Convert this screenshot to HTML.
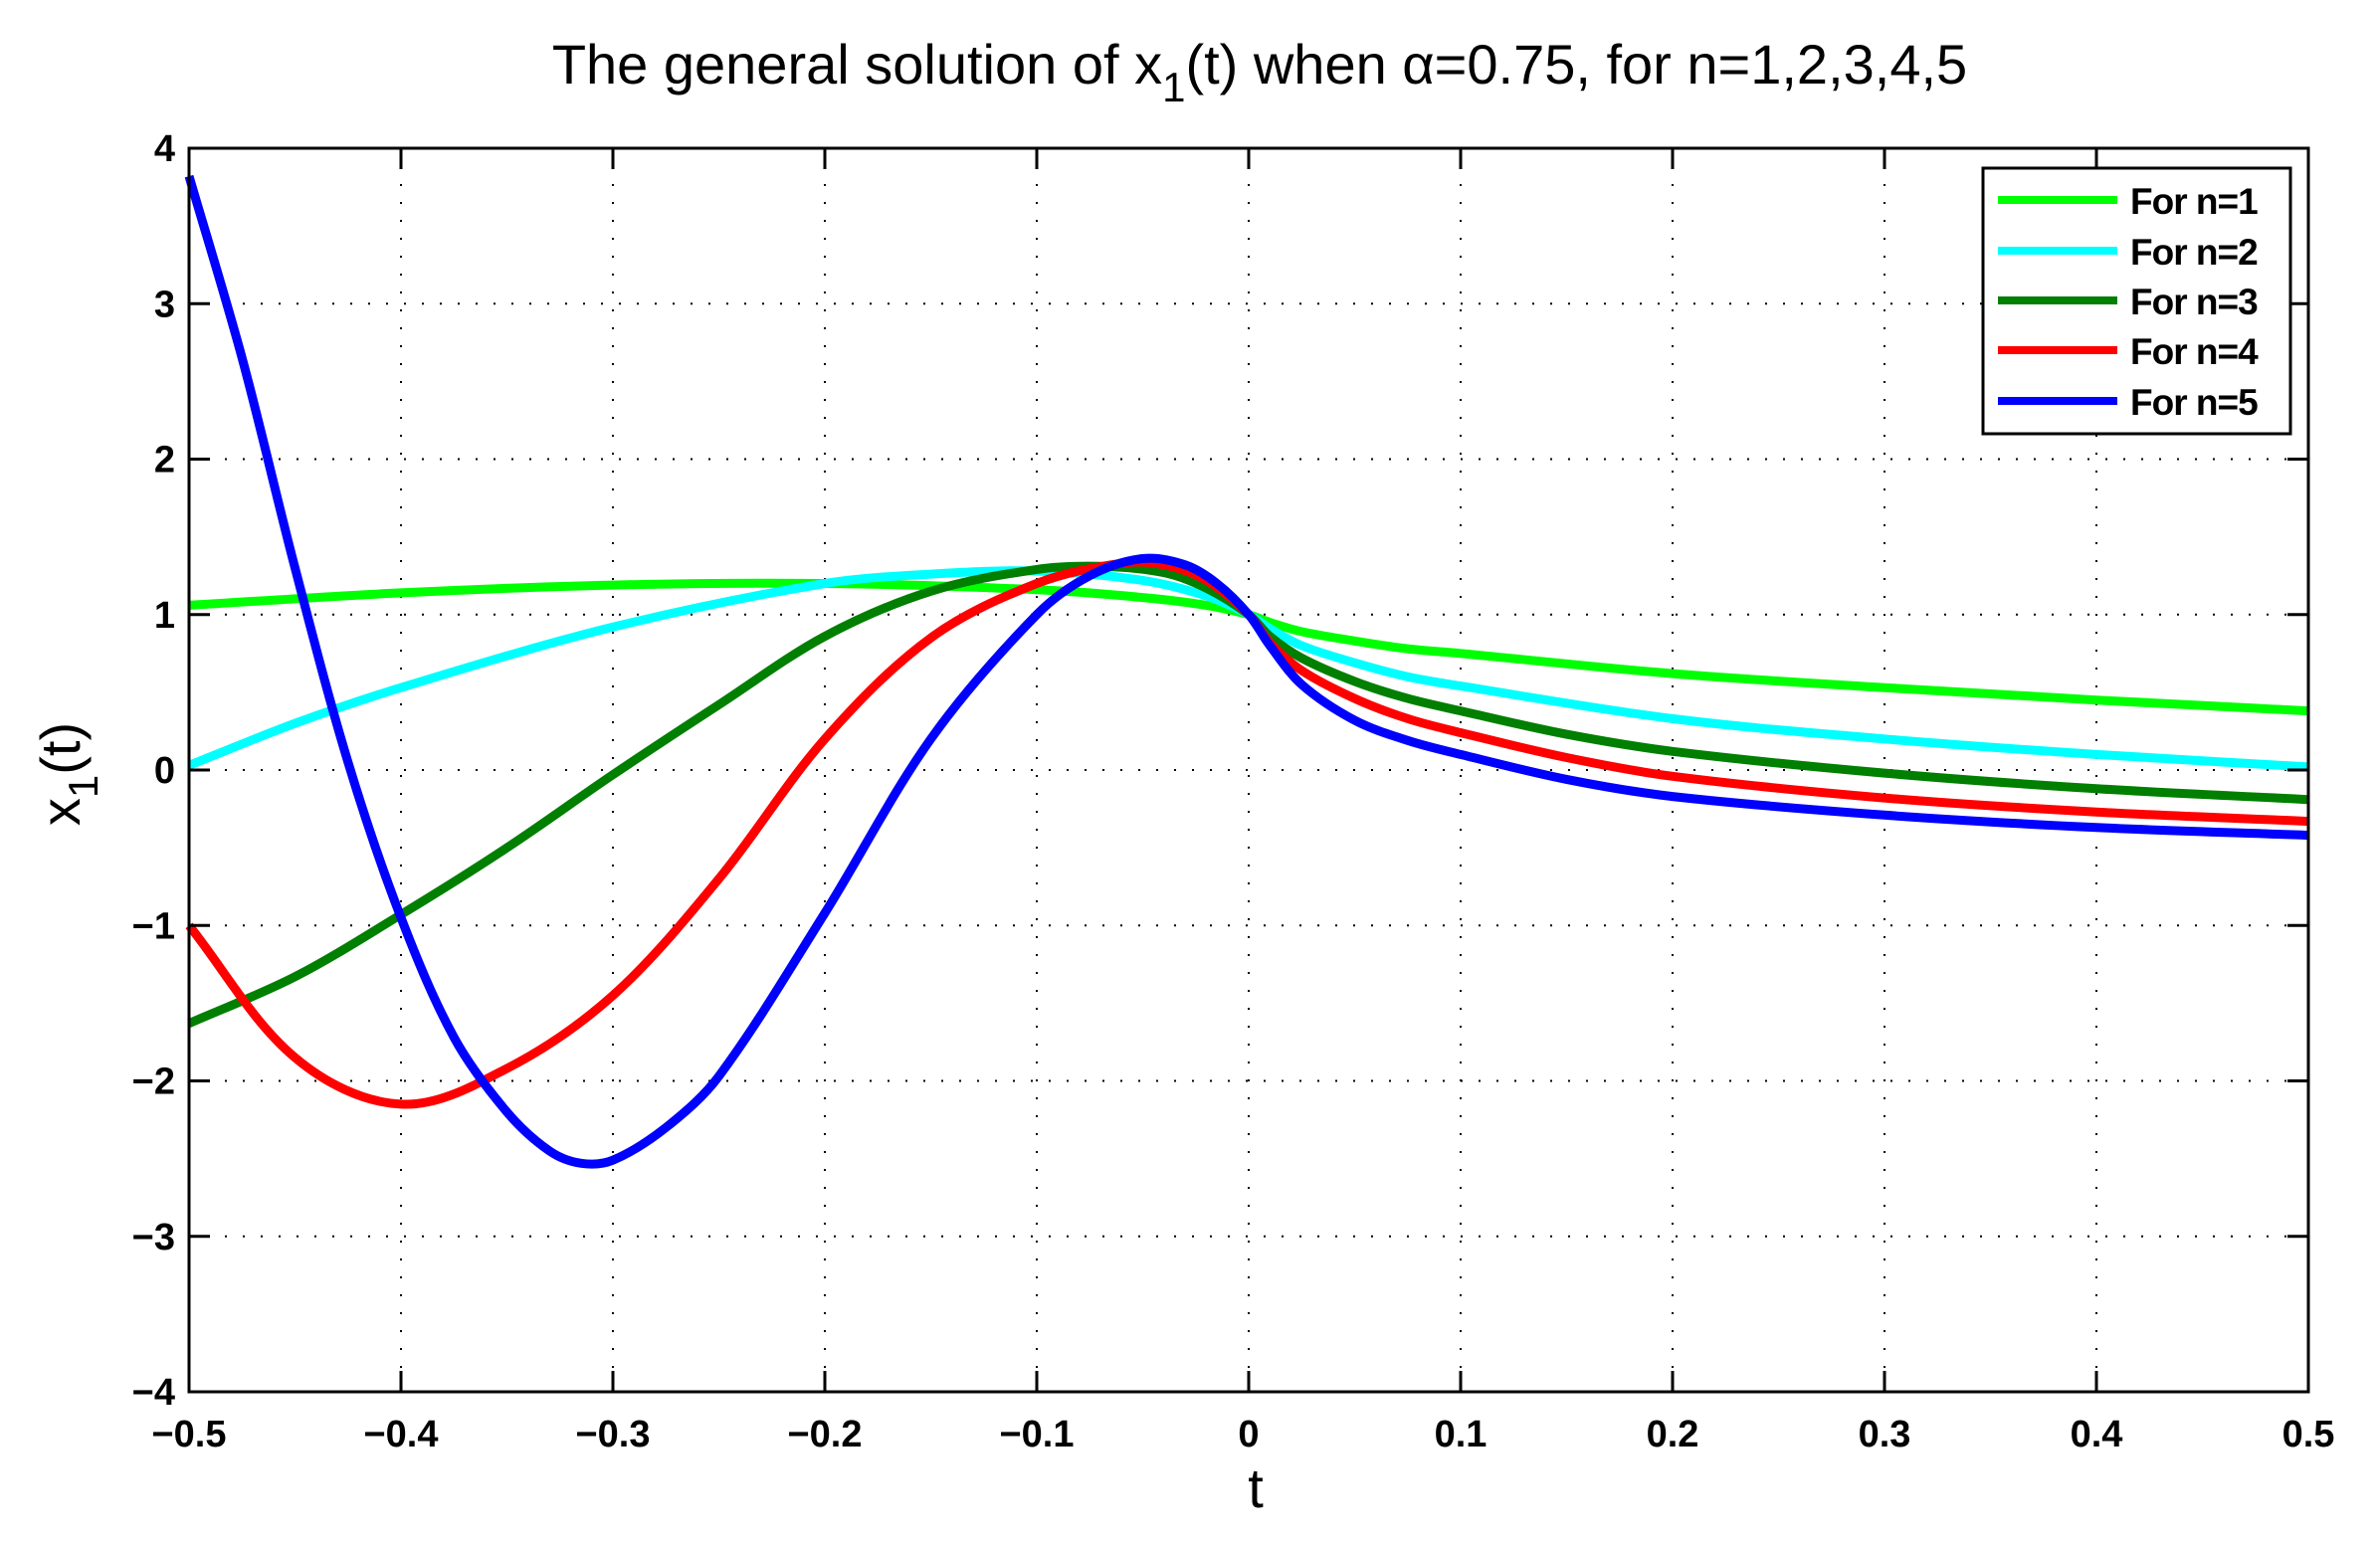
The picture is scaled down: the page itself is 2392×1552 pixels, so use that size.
<!DOCTYPE html>
<html><head><meta charset="utf-8"><style>
html,body{margin:0;padding:0;background:#fff;}
svg text{font-family:"Liberation Sans",Arial,sans-serif;}
</style></head><body>
<svg id="s" width="2392" height="1547" viewBox="0 0 2392 1547" xmlns="http://www.w3.org/2000/svg">
<rect width="2392" height="1547" fill="#fff"/>
<g id="grid" stroke="#000" stroke-width="2" stroke-dasharray="2,16"></g>
<g id="curves" fill="none" stroke-width="9" stroke-linejoin="round" stroke-linecap="butt"></g>
<g id="ticks" stroke="#000" stroke-width="3"></g>
<rect x="190" y="149" width="2130" height="1250" fill="none" stroke="#000" stroke-width="3"/>
<g id="labels" font-size="38" font-weight="bold" fill="#000"></g>
<text x="1266" y="84" font-size="56" text-anchor="middle">The general solution of x<tspan font-size="42" dy="18">1</tspan><tspan dy="-18">(t) when α=0.75, for n=1,2,3,4,5</tspan></text>
<text x="1262" y="1515" font-size="56" text-anchor="middle">t</text>
<text transform="translate(80,778) rotate(-90)" font-size="56" text-anchor="middle">x<tspan font-size="42" dy="18">1</tspan><tspan dy="-18">(t)</tspan></text>
<rect x="1993" y="169" width="309" height="267" fill="#fff" stroke="#000" stroke-width="3"/>
<g stroke-width="8">
<line x1="2008" y1="201" x2="2128" y2="201" stroke="#00ff00"/>
<line x1="2008" y1="252" x2="2128" y2="252" stroke="#00ffff"/>
<line x1="2008" y1="302" x2="2128" y2="302" stroke="#007f00"/>
<line x1="2008" y1="352" x2="2128" y2="352" stroke="#ff0000"/>
<line x1="2008" y1="403" x2="2128" y2="403" stroke="#0000ff"/>
</g>
<g font-size="37" font-weight="bold" letter-spacing="-1">
<text x="2141" y="215">For n=1</text>
<text x="2141" y="266">For n=2</text>
<text x="2141" y="316">For n=3</text>
<text x="2141" y="366">For n=4</text>
<text x="2141" y="417">For n=5</text>
</g>
</svg>
<script>
var L=190,R=2320,T=149,B=1399;
function X(t){return L+(t+0.5)*(R-L);}
function Y(v){return T+(4-v)*(B-T)/8;}
var ns="http://www.w3.org/2000/svg";
function el(p,n,a,txt){var e=document.createElementNS(ns,n);for(var k in a)e.setAttribute(k,a[k]);if(txt!==undefined)e.textContent=txt;p.appendChild(e);return e;}
var g=document.getElementById('grid'),tk=document.getElementById('ticks'),lb=document.getElementById('labels');
for(var i=-5;i<=5;i++){var x=X(i/10);
 if(i>-5&&i<5)el(g,'line',{x1:x,y1:T,x2:x,y2:B});
 el(tk,'line',{x1:x,y1:B,x2:x,y2:B-21});el(tk,'line',{x1:x,y1:T,x2:x,y2:T+21});
 var s=(i==0)?'0':((i<0?'\u2212':'')+'0.'+Math.abs(i));
 el(lb,'text',{x:x,y:B+55,'text-anchor':'middle'},s);}
for(var j=-4;j<=4;j++){var y=Y(j);
 if(j>-4&&j<4)el(g,'line',{x1:L,y1:y,x2:R,y2:y});
 el(tk,'line',{x1:L,y1:y,x2:L+21,y2:y});el(tk,'line',{x1:R,y1:y,x2:R-21,y2:y});
 el(lb,'text',{x:L-14,y:y+13,'text-anchor':'end'},(j<0?'\u2212':'')+Math.abs(j));}
var data=[
['#00ff00',[[-0.5,1.06],[-0.4,1.14],[-0.3,1.19],[-0.2,1.2],[-0.1,1.16],[-0.05,1.11],[-0.02,1.06],[0,1.0],[0.01,0.95],[0.025,0.89],[0.05,0.83],[0.075,0.78],[0.1,0.75],[0.2,0.62],[0.3,0.53],[0.4,0.45],[0.5,0.38]]],
['#00ffff',[[-0.5,0.03],[-0.45,0.3],[-0.4,0.53],[-0.3,0.92],[-0.2,1.2],[-0.15,1.26],[-0.1,1.28],[-0.05,1.22],[-0.02,1.12],[0,1.0],[0.01,0.91],[0.025,0.8],[0.05,0.69],[0.075,0.6],[0.1,0.54],[0.2,0.33],[0.3,0.2],[0.4,0.1],[0.5,0.02]]],
['#007f00',[[-0.5,-1.63],[-0.45,-1.33],[-0.4,-0.93],[-0.35,-0.5],[-0.3,-0.03],[-0.25,0.42],[-0.2,0.86],[-0.15,1.15],[-0.1,1.29],[-0.07,1.31],[-0.04,1.27],[-0.02,1.17],[0,1.0],[0.01,0.86],[0.025,0.72],[0.05,0.57],[0.075,0.46],[0.1,0.38],[0.15,0.23],[0.2,0.12],[0.3,-0.02],[0.4,-0.12],[0.5,-0.19]]],
['#ff0000',[[-0.5,-1.0],[-0.45,-1.85],[-0.4,-2.15],[-0.35,-1.92],[-0.3,-1.45],[-0.25,-0.7],[-0.2,0.2],[-0.15,0.85],[-0.1,1.2],[-0.06,1.33],[-0.04,1.32],[-0.02,1.22],[0,1.0],[0.01,0.82],[0.025,0.64],[0.05,0.46],[0.075,0.33],[0.1,0.24],[0.15,0.08],[0.2,-0.04],[0.3,-0.18],[0.4,-0.27],[0.5,-0.33]]],
['#0000ff',[[-0.5,3.82],[-0.475,2.65],[-0.45,1.3],[-0.425,0.05],[-0.4,-0.95],[-0.375,-1.72],[-0.35,-2.2],[-0.33,-2.45],[-0.315,-2.53],[-0.3,-2.51],[-0.275,-2.3],[-0.25,-1.97],[-0.2,-0.92],[-0.15,0.2],[-0.1,1.0],[-0.075,1.25],[-0.05,1.36],[-0.03,1.32],[-0.015,1.2],[0,1.0],[0.01,0.8],[0.025,0.55],[0.05,0.32],[0.075,0.19],[0.1,0.1],[0.15,-0.06],[0.2,-0.17],[0.3,-0.29],[0.4,-0.37],[0.5,-0.42]]]
];
var cg=document.getElementById('curves');
data.forEach(function(d){
 var p=d[1].map(function(q){return [X(q[0]),Y(q[1])];});
 var s='M'+p[0][0].toFixed(1)+','+p[0][1].toFixed(1);
 for(var i=0;i<p.length-1;i++){
  var p0=p[i>0?i-1:0],p1=p[i],p2=p[i+1],p3=p[i+2<p.length?i+2:p.length-1];
  var d1=Math.hypot(p2[0]-p1[0],p2[1]-p1[1]);
  var s1=d1/Math.hypot(p2[0]-p0[0],p2[1]-p0[1]),s2=d1/Math.hypot(p3[0]-p1[0],p3[1]-p1[1]);
  var c1=[p1[0]+(p2[0]-p0[0])*s1/3,p1[1]+(p2[1]-p0[1])*s1/3];
  var c2=[p2[0]-(p3[0]-p1[0])*s2/3,p2[1]-(p3[1]-p1[1])*s2/3];
  s+='C'+c1[0].toFixed(1)+','+c1[1].toFixed(1)+' '+c2[0].toFixed(1)+','+c2[1].toFixed(1)+' '+p2[0].toFixed(1)+','+p2[1].toFixed(1);
 }
 el(cg,'path',{d:s,stroke:d[0]});
});
</script>
</body></html>
